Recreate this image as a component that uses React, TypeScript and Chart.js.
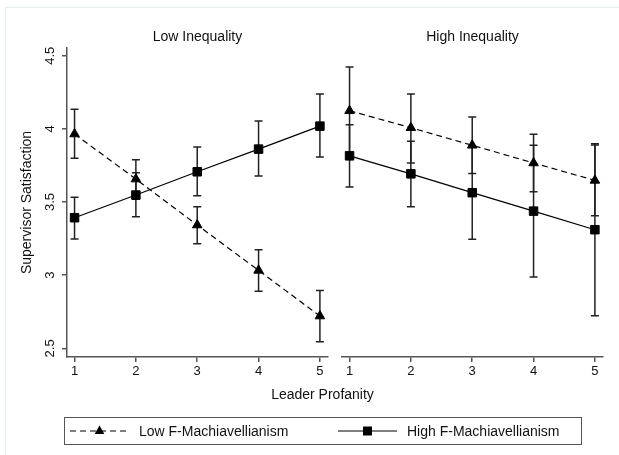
import React, { useEffect, useRef } from 'react';
import { Chart, registerables } from 'chart.js';

Chart.register(...registerables);

const FONT = "'Liberation Sans', Arial, Helvetica, sans-serif";

// ---- data ----
const leaderProfanity = [1, 2, 3, 4, 5];
const xTickValues = [1, 2, 3, 4, 5];
const yTickValues = [2.5, 3, 3.5, 4, 4.5];
const panelTitles = ['Low Inequality', 'High Inequality'];
const seriesNames = ['Low F-Machiavellianism', 'High F-Machiavellianism'];
const xAxisTitle = 'Leader Profanity';
const yAxisTitle = 'Supervisor Satisfaction';

// Low Inequality panel
const lowIneqLowMach = [3.965, 3.657, 3.343, 3.033, 2.721];
const lowIneqLowMachLo = [3.8, 3.52, 3.215, 2.89, 2.545];
const lowIneqLowMachHi = [4.134, 3.79, 3.468, 3.174, 2.896];
const lowIneqHighMach = [3.393, 3.548, 3.707, 3.862, 4.019];
const lowIneqHighMachLo = [3.247, 3.4, 3.543, 3.678, 3.808];
const lowIneqHighMachHi = [3.533, 3.7, 3.876, 4.054, 4.238];

// High Inequality panel
const highIneqLowMach = [4.124, 4.008, 3.888, 3.767, 3.648];
const highIneqLowMachLo = [3.825, 3.767, 3.695, 3.571, 3.406];
const highIneqLowMachHi = [4.423, 4.238, 4.081, 3.963, 3.89];
const highIneqHighMach = [3.816, 3.693, 3.564, 3.438, 3.311];
const highIneqHighMachLo = [3.603, 3.468, 3.245, 2.987, 2.723];
const highIneqHighMachHi = [4.028, 3.915, 3.883, 3.888, 3.899];

const Y_MIN = 2.441;
const Y_MAX = 4.553;
const X_MIN = 0.877;
const X_MAX = 5.132;

const errorBarPlugin = {
  id: 'errorBars',
  beforeDatasetsDraw(chart: any) {
    const { ctx } = chart;
    const xs = chart.scales.x;
    const ys = chart.scales.y;
    ctx.save();
    chart.data.datasets.forEach((ds: any) => {
      const lo: number[] = ds.errLo;
      const hi: number[] = ds.errHi;
      if (!lo || !hi) return;
      ctx.strokeStyle = '#222';
      ctx.lineWidth = 1.5;
      ctx.setLineDash([]);
      ds.data.forEach((p: any, i: number) => {
        const px = xs.getPixelForValue(p.x);
        const pl = ys.getPixelForValue(lo[i]);
        const ph = ys.getPixelForValue(hi[i]);
        ctx.beginPath();
        ctx.moveTo(px, pl);
        ctx.lineTo(px, ph);
        ctx.moveTo(px - 4, pl);
        ctx.lineTo(px + 4, pl);
        ctx.moveTo(px - 4, ph);
        ctx.lineTo(px + 4, ph);
        ctx.stroke();
      });
    });
    ctx.restore();
  },
};

function toPoints(vals: number[]) {
  return leaderProfanity.map((x, i) => ({ x, y: vals[i] }));
}

function makeConfig(
  title: string,
  low: number[], lowLo: number[], lowHi: number[],
  high: number[], highLo: number[], highHi: number[],
  showY: boolean,
  padding: any
): any {
  return {
    type: 'line',
    data: {
      datasets: [
        {
          label: seriesNames[0],
          data: toPoints(low),
          errLo: lowLo,
          errHi: lowHi,
          borderColor: '#000',
          borderWidth: 1.2,
          borderDash: [6, 4],
          pointStyle: 'triangle',
          pointRadius: 5.5,
          pointBackgroundColor: '#000',
          pointBorderColor: '#000',
          pointBorderWidth: 1,
          fill: false,
          tension: 0,
        },
        {
          label: seriesNames[1],
          data: toPoints(high),
          errLo: highLo,
          errHi: highHi,
          borderColor: '#000',
          borderWidth: 1.2,
          pointStyle: 'rect',
          pointRadius: 6,
          pointBackgroundColor: '#000',
          pointBorderColor: '#000',
          pointBorderWidth: 1,
          fill: false,
          tension: 0,
        },
      ],
    },
    options: {
      responsive: false,
      animation: false,
      events: [],
      layout: { padding },
      plugins: {
        legend: { display: false },
        tooltip: { enabled: false },
        title: {
          display: true,
          text: title,
          fullSize: false,
          color: '#111',
          font: { family: FONT, size: 14, weight: 'normal', lineHeight: 1.2 },
          padding: { top: 28.6, bottom: 2.6 },
        },
      },
      scales: {
        x: {
          type: 'linear',
          min: X_MIN,
          max: X_MAX,
          afterBuildTicks: (s: any) => {
            s.ticks = xTickValues.map((v) => ({ value: v }));
          },
          afterFit: (s: any) => {
            s.height = 98;
          },
          ticks: {
            autoSkip: false,
            maxRotation: 0,
            minRotation: 0,
            padding: 2,
            color: '#111',
            font: { family: FONT, size: 13 },
            callback: (v: any) => String(v),
          },
          grid: { drawOnChartArea: false, drawTicks: true, tickLength: 5, color: '#555', lineWidth: 1.5 },
          border: { display: true, color: '#555', width: 1.5 },
        },
        y: {
          type: 'linear',
          display: showY,
          min: Y_MIN,
          max: Y_MAX,
          afterBuildTicks: (s: any) => {
            s.ticks = yTickValues.map((v) => ({ value: v }));
          },
          afterFit: (s: any) => {
            s.width = showY ? 67 : 0;
          },
          ticks: {
            autoSkip: false,
            minRotation: 90,
            maxRotation: 90,
            crossAlign: 'center',
            padding: 3,
            color: '#111',
            font: { family: FONT, size: 13 },
            callback: (v: any) => String(v),
          },
          grid: { drawOnChartArea: false, drawTicks: true, tickLength: 5, color: '#555', lineWidth: 1.5 },
          border: { display: true, color: '#555', width: 1.5 },
          title: {
            display: true,
            text: yAxisTitle,
            color: '#111',
            font: { family: FONT, size: 14, lineHeight: 1.2 },
            padding: { top: 18.6, bottom: 0 },
          },
        },
      },
    },
    plugins: [errorBarPlugin],
  };
}

function Panel(props: { left: number; width: number; config: () => any }) {
  const ref = useRef<HTMLCanvasElement | null>(null);
  useEffect(() => {
    if (!ref.current) return;
    const chart = new Chart(ref.current, props.config());
    return () => chart.destroy();
  }, []);
  return (
    <canvas
      ref={ref}
      width={props.width}
      height={455}
      style={{ position: 'absolute', left: props.left, top: 0, width: props.width, height: 455 }}
    />
  );
}

export default function App() {
  return (
    <div style={{ position: 'absolute', left: 0, top: 0, width: 619, height: 455, background: '#fff', overflow: 'hidden' }}>
      <Panel
        left={0}
        width={335}
        config={() =>
          makeConfig(panelTitles[0], lowIneqLowMach, lowIneqLowMachLo, lowIneqLowMachHi,
            lowIneqHighMach, lowIneqHighMachLo, lowIneqHighMachHi, true,
            { left: 0, right: 6, top: 0, bottom: 0 })
        }
      />
      <Panel
        left={335}
        width={284}
        config={() =>
          makeConfig(panelTitles[1], highIneqLowMach, highIneqLowMachLo, highIneqLowMachHi,
            highIneqHighMach, highIneqHighMachLo, highIneqHighMachHi, false,
            { left: 5.5, right: 16, top: 0, bottom: 0 })
        }
      />
      <svg
        width={619}
        height={455}
        style={{ position: 'absolute', left: 0, top: 0, pointerEvents: 'none' }}
      >
        <line x1={5.5} y1={7.5} x2={619} y2={7.5} stroke="#e6eeee" strokeWidth={1} />
        <line x1={5.5} y1={7.5} x2={5.5} y2={455} stroke="#e6eeee" strokeWidth={1} />
        <text x={322.5} y={399} textAnchor="middle" fontFamily={FONT} fontSize={14} fill="#111">
          {xAxisTitle}
        </text>
        <rect x={64.5} y={417.5} width={517} height={27} fill="none" stroke="#555" strokeWidth={1} />
        <line x1={70} y1={431} x2={130} y2={431} stroke="#000" strokeWidth={1.2} strokeDasharray="6 4" />
        <polygon points="99.5,425.5 104.3,434 94.7,434" fill="#000" />
        <text x={139} y={436} fontFamily={FONT} fontSize={14} fill="#111">
          {seriesNames[0]}
        </text>
        <line x1={338} y1={431} x2={397} y2={431} stroke="#000" strokeWidth={1.2} />
        <rect x={363} y={426.5} width={9} height={9} fill="#000" />
        <text x={407} y={436} fontFamily={FONT} fontSize={14} fill="#111">
          {seriesNames[1]}
        </text>
      </svg>
    </div>
  );
}
